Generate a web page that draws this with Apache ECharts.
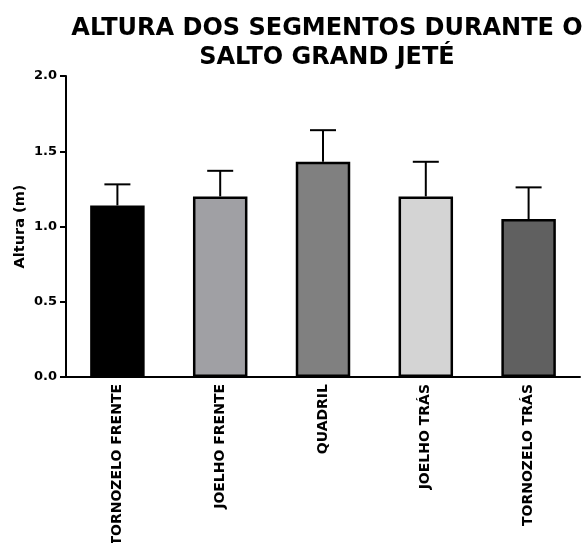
<!DOCTYPE html>
<html>
<head>
<meta charset="utf-8">
<script src="https://cdn.jsdelivr.net/npm/echarts@6/dist/echarts.min.js"></script>
<style>
html, body { margin: 0; padding: 0; background: #fff; }
#chart { width: 583px; height: 543px; }
</style>
</head>
<body>
<div id="chart"></div>
<script>
// dados
var categorias = ['TORNOZELO FRENTE', 'JOELHO FRENTE', 'QUADRIL', 'JOELHO TRÁS', 'TORNOZELO TRÁS'];
var medias = [1.14, 1.20, 1.43, 1.20, 1.05];
var desvios = [0.14, 0.17, 0.21, 0.23, 0.21];
var cores = ['#000000', '#a0a0a4', '#808080', '#d4d4d4', '#606060'];
var yTicks = [0, 0.5, 1.0, 1.5, 2.0];

var fonte = '"DejaVu Sans", "Liberation Sans", Arial, sans-serif';

var barData = medias.map(function (v, i) {
	return { value: v, itemStyle: { color: cores[i] } };
});
var erroData = medias.map(function (v, i) {
	return [i, v, v + desvios[i]];
});

var chart = echarts.init(document.getElementById('chart'));
var option = {
	animation: false,
	title: {
		text: 'ALTURA DOS SEGMENTOS DURANTE O\nSALTO GRAND JETÉ',
		left: 322,
		top: 10,
		textAlign: 'center',
		textStyle: {
			fontFamily: fonte,
			fontSize: 24,
			fontWeight: 'bold',
			color: '#000',
			lineHeight: 28.5
		}
	},
	grid: {
		left: 66,
		right: 3,
		top: 76,
		bottom: 166,
		outerBoundsMode: 'none'
	},
	xAxis: {
		type: 'category',
		data: categorias,
		axisLine: { lineStyle: { color: '#000', width: 2 } },
		axisTick: { alignWithLabel: true, length: 6, lineStyle: { color: '#000', width: 2 } },
		axisLabel: {
			rotate: 90,
			interval: 0,
			margin: 7,
			fontFamily: fonte,
			fontSize: 14,
			fontWeight: 'bold',
			color: '#000'
		}
	},
	yAxis: {
		type: 'value',
		min: yTicks[0],
		max: yTicks[yTicks.length - 1],
		interval: 0.5,
		name: 'Altura (m)',
		nameLocation: 'middle',
		nameGap: 38,
		nameMoveOverlap: false,
		nameTextStyle: {
			fontFamily: fonte,
			fontSize: 14.5,
			fontWeight: 'bold',
			color: '#000'
		},
		splitLine: { show: false },
		axisLine: { show: true, lineStyle: { color: '#000', width: 2 } },
		axisTick: { show: true, length: 6, lineStyle: { color: '#000', width: 2 } },
		axisLabel: {
			margin: 9,
			fontFamily: fonte,
			fontSize: 13,
			fontWeight: 'bold',
			color: '#000',
			formatter: function (v) { return v.toFixed(1); }
		}
	},
	series: [{
		type: 'bar',
		barWidth: '53%',
		data: barData,
		itemStyle: {
			borderColor: '#000',
			borderWidth: 2.5
		},
		z: 3
	}, {
		type: 'custom',
		data: erroData,
		z: 2,
		renderItem: function (params, api) {
			var x = api.value(0);
			var base = api.coord([x, api.value(1)]);
			var topo = api.coord([x, api.value(2)]);
			var meia = 13;
			var estilo = { stroke: '#000', lineWidth: 2 };
			return {
				type: 'group',
				children: [{
					type: 'line',
					shape: { x1: base[0], y1: base[1], x2: topo[0], y2: topo[1] },
					style: estilo
				}, {
					type: 'line',
					shape: { x1: topo[0] - meia, y1: topo[1], x2: topo[0] + meia, y2: topo[1] },
					style: estilo
				}]
			};
		}
	}]
};
chart.setOption(option);
</script>
</body>
</html>
